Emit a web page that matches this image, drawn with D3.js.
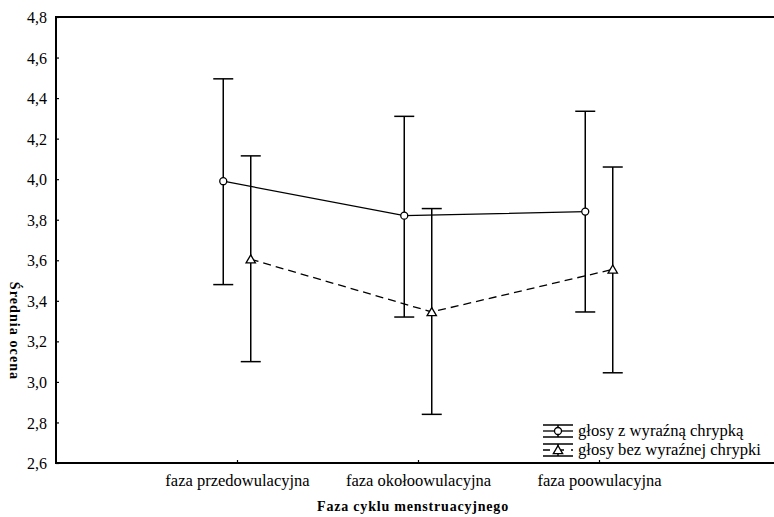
<!DOCTYPE html>
<html><head><meta charset="utf-8">
<script src="https://cdn.jsdelivr.net/npm/d3@7/dist/d3.min.js"></script>
<style>
html,body{margin:0;padding:0;background:#fff;}
svg{display:block;}
text{font-family:"Liberation Serif","Times New Roman",Times,"DejaVu Serif",serif;fill:#000;}
</style></head>
<body>
<svg id="chart" width="774" height="517"></svg>
<script>
const categories = ["faza przedowulacyjna", "faza okołoowulacyjna", "faza poowulacyjna"];
const seriesNames = ["głosy z wyraźną chrypką", "głosy bez wyraźnej chrypki"];
const meanA  = [3.99, 3.82, 3.84];
const lowerA = [3.48, 3.32, 3.345];
const upperA = [4.495, 4.31, 4.335];
const meanB  = [3.605, 3.345, 3.555];
const lowerB = [3.10, 2.84, 3.045];
const upperB = [4.115, 3.855, 4.06];
const yTicks = [2.6, 2.8, 3.0, 3.2, 3.4, 3.6, 3.8, 4.0, 4.2, 4.4, 4.6, 4.8];
const xTitle = "Faza cyklu menstruacyjnego";
const yTitle = "Średnia ocena";

const FONT = '"Liberation Serif","Times New Roman",Times,"DejaVu Serif",serif';
const svg = d3.select("#chart");
const L = 56, R = 774, T = 17, B = 463;
const y = d3.scaleLinear().domain([2.6, 4.8]).range([B, T]);
const x = d3.scalePoint().domain(categories).range([L, 780]).padding(1);
const off = 13.75;
const fmt = d => d.toFixed(1).replace(".", ",");

const series = [
  {name: seriesNames[0], mean: meanA, lo: lowerA, hi: upperA, dx: -off, dash: null, marker: "circle"},
  {name: seriesNames[1], mean: meanB, lo: lowerB, hi: upperB, dx: off, dash: "8,5", marker: "triangle"}
];

// frame
svg.append("line").attr("x1", L).attr("x2", R).attr("y1", T).attr("y2", T).attr("stroke", "#000").attr("stroke-width", 2);
svg.append("line").attr("x1", L).attr("x2", R).attr("y1", B).attr("y2", B).attr("stroke", "#000").attr("stroke-width", 2);
svg.append("line").attr("x1", L).attr("x2", L).attr("y1", T - 1).attr("y2", B + 1).attr("stroke", "#000").attr("stroke-width", 2);

// y axis
const yAxis = d3.axisRight(y).tickValues(yTicks).tickFormat(fmt).tickSize(3).tickSizeOuter(0);
const gy = svg.append("g").attr("transform", `translate(${L},0)`).call(yAxis);
gy.attr("font-family", FONT).attr("font-size", 16);
gy.select(".domain").remove();
gy.selectAll(".tick line").attr("stroke", "#000").attr("stroke-width", 1.2);
gy.selectAll(".tick text").attr("x", -9).attr("text-anchor", "end").attr("dy", "0.35em").attr("fill", "#000");

// x axis
const xAxis = d3.axisTop(x).tickSize(3).tickSizeOuter(0);
const gx = svg.append("g").attr("transform", `translate(0,${B})`).call(xAxis);
gx.attr("font-family", FONT).attr("font-size", 16.5);
gx.select(".domain").remove();
gx.selectAll(".tick line").attr("stroke", "#000").attr("stroke-width", 1.2);
gx.selectAll(".tick text").attr("y", 23).attr("dy", "0").attr("text-anchor", "middle").attr("fill", "#000");

// titles
svg.append("text").attr("x", 413).attr("y", 511).attr("text-anchor", "middle")
  .style("font-size", "14px").style("font-weight", "bold").style("letter-spacing", "0.8px").text(xTitle);
svg.append("text").attr("transform", "translate(10,331) rotate(90)").attr("text-anchor", "middle")
  .style("font-size", "14px").style("font-weight", "bold").style("letter-spacing", "1.1px").text(yTitle);

const cap = 10;
const tri = d3.symbol().type(d3.symbolTriangle).size(38);

series.forEach(s => {
  const g = svg.append("g");
  const px = i => x(categories[i]) + s.dx;
  const line = d3.line().x((d, i) => px(i)).y(d => y(d));
  g.append("path").datum(s.mean).attr("d", line).attr("fill", "none").attr("stroke", "#000")
    .attr("stroke-width", 1.3).attr("stroke-dasharray", s.dash);
  s.mean.forEach((m, i) => {
    const cx = px(i);
    g.append("line").attr("x1", cx).attr("x2", cx).attr("y1", y(s.hi[i])).attr("y2", y(s.lo[i])).attr("stroke", "#000").attr("stroke-width", 1.5);
    [s.hi[i], s.lo[i]].forEach(v => {
      g.append("line").attr("x1", cx - cap).attr("x2", cx + cap).attr("y1", y(v)).attr("y2", y(v)).attr("stroke", "#000").attr("stroke-width", 1.5);
    });
    if (s.marker === "circle") {
      g.append("circle").attr("cx", cx).attr("cy", y(m)).attr("r", 3.5).attr("fill", "#fff").attr("stroke", "#000").attr("stroke-width", 1.3);
    } else {
      g.append("path").attr("d", tri).attr("transform", `translate(${cx},${y(m) + 1})`).attr("fill", "#fff").attr("stroke", "#000").attr("stroke-width", 1.3);
    }
  });
});

// legend
const lg = svg.append("g");
const legY = [432, 451];
series.forEach((s, i) => {
  const cy = legY[i];
  const x0 = 543, x1 = 573, xc = 558;
  lg.append("line").attr("x1", x0).attr("x2", x1).attr("y1", cy - 7).attr("y2", cy - 7).attr("stroke", "#000").attr("stroke-width", 1.5);
  lg.append("line").attr("x1", x0).attr("x2", x1).attr("y1", cy + 5).attr("y2", cy + 5).attr("stroke", "#000").attr("stroke-width", 1.5);
  lg.append("line").attr("x1", xc).attr("x2", xc).attr("y1", cy - 7).attr("y2", cy + 5).attr("stroke", "#000").attr("stroke-width", 1.5);
  lg.append("line").attr("x1", x0).attr("x2", x1).attr("y1", cy - 1).attr("y2", cy - 1).attr("stroke", "#000").attr("stroke-width", 1.3).attr("stroke-dasharray", s.dash ? "7,7" : null);
  if (s.marker === "circle") {
    lg.append("circle").attr("cx", xc).attr("cy", cy - 1).attr("r", 3.5).attr("fill", "#fff").attr("stroke", "#000").attr("stroke-width", 1.3);
  } else {
    lg.append("path").attr("d", tri).attr("transform", `translate(${xc},${cy})`).attr("fill", "#fff").attr("stroke", "#000").attr("stroke-width", 1.3);
  }
  lg.append("text").attr("x", 578).attr("y", cy + 4).style("font-size", "16.6px").text(s.name);
});
</script>
</body></html>
